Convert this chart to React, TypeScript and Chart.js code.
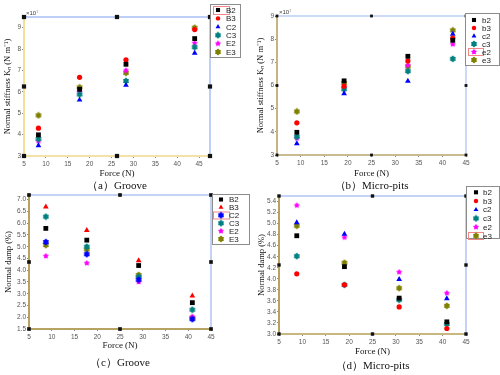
import React, { useEffect, useRef } from 'react';
import { Chart, registerables } from 'chart.js';
import { drawPoint } from 'chart.js/helpers';

Chart.register(...registerables);

// ---------------- data ----------------
// (a) Groove – normal stiffness (x10^7 N/m)
const grooveStiffForce = [8.3, 17.7, 28.3, 44.0];
const grooveStiffB2 = [3.99, 6.12, 7.29, 8.49];
const grooveStiffB3 = [4.3, 6.68, 7.5, 8.91];
const grooveStiffC2 = [3.49, 5.62, 6.31, 7.81];
const grooveStiffC3 = [3.8, 5.88, 6.51, 8.09];
const grooveStiffE2 = [3.69, 6.0, 7.0, 8.28];
const grooveStiffE3 = [4.9, 6.21, 6.89, 9.0];

// (b) Micro-pits – normal stiffness (x10^7 N/m)
const pitsStiffForce = [9.2, 19.2, 32.7, 42.2];
const pitsStiffb2 = [3.98, 6.2, 7.26, 7.95];
const pitsStiffb3 = [4.39, 5.97, 7.06, 8.05];
const pitsStiffc2 = [3.49, 5.65, 6.19, 8.22];
const pitsStiffc3 = [3.79, 5.84, 6.62, 7.15];
const pitsStiffe2 = [3.72, 5.91, 6.87, 7.78];
const pitsStiffe3 = [4.88, 6.11, 6.82, 8.38];

// (c) Groove – normal damp (%)
const grooveDampForce = [8.7, 17.7, 29.1, 40.9];
const grooveDampB2 = [5.78, 5.28, 4.2, 2.62];
const grooveDampB3 = [6.7, 5.7, 4.41, 2.91];
const grooveDampC2 = [5.2, 4.68, 3.6, 1.92];
const grooveDampC3 = [6.28, 5.0, 3.72, 2.32];
const grooveDampE2 = [4.6, 4.3, 3.5, 2.02];
const grooveDampE3 = [5.07, 4.88, 3.8, 1.98];

// (d) Micro-pits – normal damp (%)
const pitsDampForce = [8.8, 19.0, 30.7, 40.9];
const pitsDampb2 = [4.78, 4.22, 3.65, 3.22];
const pitsDampb3 = [4.09, 3.89, 3.49, 3.1];
const pitsDampc2 = [5.02, 4.81, 3.99, 3.64];
const pitsDampc3 = [4.41, 3.89, 3.62, 3.18];
const pitsDampe2 = [5.33, 4.75, 4.12, 3.74];
const pitsDampe3 = [4.96, 4.29, 3.83, 3.51];

// selection-handle squares on the frame of each plot
const handlesAx = [5, 26.25, 47.5, 47.5, 47.5, 26.25, 5, 5];
const handlesAy = [9.5, 9.5, 9.5, 6.25, 3, 3, 3, 6.25];
const handlesBx = [5, 25, 45, 45, 45, 25, 5, 5];
const handlesBy = [9, 9, 9, 6, 3, 3, 3, 6];
const handlesCx = [5, 25, 45, 45, 45, 25, 5, 5];
const handlesCy = [7.2, 7.2, 7.2, 4.35, 1.5, 1.5, 1.5, 4.35];
const handlesDx = [5, 25, 45, 45, 45, 25, 5, 5];
const handlesDy = [5.5, 5.5, 5.5, 4.25, 3.0, 3.0, 3.0, 4.25];

const upperLabels = ['B2', 'B3', 'C2', 'C3', 'E2', 'E3'];
const lowerLabels = ['b2', 'b3', 'c2', 'c3', 'e2', 'e3'];

// ---------------- styling ----------------
const SERIF = '"Liberation Serif", "Times New Roman", serif';
const SANS = '"Liberation Sans", Arial, sans-serif';
const COLORS = ['#000000', '#ff0000', '#0000ff', '#008080', '#ff00ff', '#808000'];

function starCanvas(color: string, n: number, outer: number, inner: number) {
  const s = 8;
  const c = document.createElement('canvas');
  c.width = s;
  c.height = s;
  const ctx = c.getContext('2d')!;
  ctx.fillStyle = color;
  ctx.beginPath();
  for (let i = 0; i < 2 * n; i++) {
    const r = i % 2 === 0 ? outer : inner;
    const a = -Math.PI / 2 + (i * Math.PI) / n;
    ctx.lineTo(s / 2 + r * Math.cos(a), s / 2 + r * Math.sin(a));
  }
  ctx.closePath();
  ctx.fill();
  return c;
}

function markerStyle(kind: string, color: string): { pointStyle: any; pointRadius: number } {
  if (kind === 'rect') return { pointStyle: 'rect', pointRadius: 3.4 };
  if (kind === 'circle') return { pointStyle: 'circle', pointRadius: 2.6 };
  if (kind === 'triangle') return { pointStyle: 'triangle', pointRadius: 3.3 };
  if (kind === 'star5') return { pointStyle: starCanvas(color, 5, 3.2, 1.8), pointRadius: 3 };
  return { pointStyle: starCanvas(color, 6, 3.4, 2.5), pointRadius: 3 };
}

const decorPlugin = {
  id: 'decor',
  beforeDatasetsDraw(chart: any, _a: any, opts: any) {
    const { ctx, chartArea: ca } = chart;
    ctx.save();
    ctx.strokeStyle = opts.frame;
    ctx.lineWidth = 1.5;
    ctx.beginPath();
    ctx.moveTo(ca.left, ca.top);
    ctx.lineTo(ca.right, ca.top);
    ctx.lineTo(ca.right, ca.bottom);
    ctx.stroke();
    ctx.restore();
  },
  afterDraw(chart: any, _a: any, opts: any) {
    const ctx = chart.ctx;
    const lg = opts.legend;
    ctx.save();
    const [bx, by, bw, bh] = lg.box;
    ctx.fillStyle = '#ffffff';
    ctx.fillRect(bx, by, bw, bh);
    ctx.strokeStyle = '#8c8c8c';
    ctx.lineWidth = 1;
    ctx.strokeRect(bx + 0.5, by + 0.5, bw - 1, bh - 1);
    if (lg.hl) {
      const [hx, hy, hw, hh] = lg.hl;
      ctx.strokeStyle = '#f08888';
      ctx.lineWidth = 1;
      ctx.strokeRect(hx + 0.5, hy + 0.5, hw, hh);
    }
    let i = 0;
    chart.data.datasets.forEach((ds: any) => {
      if (ds.isHandle) return;
      const y = lg.y0 + i * lg.dy;
      ctx.fillStyle = ds.backgroundColor;
      ctx.strokeStyle = ds.backgroundColor;
      drawPoint(ctx, { pointStyle: ds.pointStyle, radius: ds.pointRadius * 0.85, rotation: 0, borderWidth: 0 } as any, lg.mx, y);
      ctx.fillStyle = '#222';
      ctx.font = `8px ${SANS}`;
      ctx.textBaseline = 'middle';
      ctx.textAlign = 'left';
      ctx.fillText(ds.label, lg.tx, y + 0.5);
      i++;
    });
    if (opts.exp) {
      ctx.fillStyle = '#444';
      ctx.font = `6px ${SANS}`;
      ctx.textBaseline = 'middle';
      ctx.textAlign = 'left';
      ctx.fillText(opts.exp.text, opts.exp.x, opts.exp.y);
    }
    ctx.restore();
  },
};

interface Panel {
  xs: number[];
  series: number[][];
  labels: string[];
  markers: string[];
  hx: number[];
  hy: number[];
  handleR: number;
  xMax: number;
  yMin: number;
  yMax: number;
  yStep: number;
  yDec: number;
  yTitle: string;
  subtitle: string;
  area: { l: number; r: number; t: number; b: number };
  padLeft: number;
  xTitleY: number;
  subY: number;
  leftColor: string;
  bottomColor: string;
  frame: string;
  legend: any;
  exp?: any;
}

function buildChart(canvas: HTMLCanvasElement, p: Panel) {
  const datasets: any[] = p.series.map((ys, i) => {
    const m = markerStyle(p.markers[i], COLORS[i]);
    return {
      label: p.labels[i],
      data: ys.map((y, j) => ({ x: p.xs[j], y })),
      backgroundColor: COLORS[i],
      borderColor: COLORS[i],
      borderWidth: 0,
      pointStyle: m.pointStyle,
      pointRadius: m.pointRadius,
      pointHoverRadius: m.pointRadius,
      showLine: false,
    };
  });
  datasets.push({
    label: '',
    isHandle: true,
    data: p.hx.map((x, j) => ({ x, y: p.hy[j] })),
    backgroundColor: '#111',
    borderColor: '#111',
    borderWidth: 0,
    pointStyle: 'rect',
    pointRadius: p.handleR,
    showLine: false,
    clip: false,
  });

  const xTitleLH = 9 * 1.2;
  const subLH = 11 * 1.2;
  const xBoxBottom = p.xTitleY + xTitleLH / 2;
  const hxAxis = xBoxBottom - p.area.b;
  const subPadTop = Math.max(0, p.subY - xBoxBottom - subLH / 2);
  const padBottom = 375 - (xBoxBottom + subPadTop + subLH);

  return new Chart(canvas, {
    type: 'scatter',
    data: { datasets },
    plugins: [decorPlugin as any],
    options: {
      animation: false,
      responsive: false,
      devicePixelRatio: 1,
      events: [],
      layout: { padding: { left: p.padLeft, right: 500 - p.area.r, top: p.area.t, bottom: padBottom } },
      plugins: {
        legend: { display: false },
        tooltip: { enabled: false },
        title: {
          display: true,
          text: p.subtitle,
          position: 'bottom',
          fullSize: false,
          font: { family: SERIF, size: 11, weight: 'normal' },
          color: '#111',
          padding: { top: subPadTop, bottom: 0 },
        },
        decor: { frame: p.frame, legend: p.legend, exp: p.exp },
      } as any,
      scales: {
        x: {
          type: 'linear',
          min: 5,
          max: p.xMax,
          afterFit: (s: any) => {
            s.height = hxAxis;
          },
          ticks: {
            stepSize: 5,
            includeBounds: false,
            autoSkip: false,
            maxRotation: 0,
            padding: 2,
            color: '#555',
            font: { family: SANS, size: 6.5 },
            callback: (v: any) => String(v),
          },
          grid: { drawOnChartArea: false, tickLength: 2, color: '#888' },
          border: { color: p.bottomColor, width: 2 },
          title: { display: true, text: 'Force (N)', color: '#111', font: { family: SERIF, size: 9 }, padding: 0 },
        },
        y: {
          type: 'linear',
          min: p.yMin,
          max: p.yMax,
          afterFit: (s: any) => {
            s.width = p.area.l - p.padLeft;
          },
          ticks: {
            stepSize: p.yStep,
            includeBounds: false,
            autoSkip: false,
            padding: 1,
            color: '#555',
            font: { family: SANS, size: 6.5 },
            callback: (v: any) => Number(v).toFixed(p.yDec),
          },
          grid: { drawOnChartArea: false, tickLength: 2, color: '#888' },
          border: { color: p.leftColor, width: 2 },
          title: { display: true, text: p.yTitle, color: '#111', font: { family: SERIF, size: 8.5 }, padding: 0 },
        },
      },
    } as any,
  });
}

export default function App() {
  const refs = [useRef<HTMLCanvasElement>(null), useRef<HTMLCanvasElement>(null), useRef<HTMLCanvasElement>(null), useRef<HTMLCanvasElement>(null)];

  useEffect(() => {
    const stiffMarkers = ['rect', 'circle', 'triangle', 'star6', 'star5', 'star6'];
    const grooveDampMarkers = ['rect', 'triangle', 'star6', 'star6', 'star5', 'star6'];
    const panels: Panel[] = [
      {
        xs: grooveStiffForce,
        series: [grooveStiffB2, grooveStiffB3, grooveStiffC2, grooveStiffC3, grooveStiffE2, grooveStiffE3],
        labels: upperLabels,
        markers: stiffMarkers,
        hx: handlesAx,
        hy: handlesAy,
        handleR: 3,
        xMax: 47.5,
        yMin: 3,
        yMax: 9.5,
        yStep: 1,
        yDec: 0,
        yTitle: 'Normal stiffness Kₙ (N m⁻¹)',
        subtitle: '（a）Groove',
        area: { l: 24, r: 210, t: 17, b: 156 },
        padLeft: 3,
        xTitleY: 174,
        subY: 185,
        leftColor: '#f3df95',
        bottomColor: '#f3e3a8',
        frame: '#a8c0f3',
        legend: { box: [210, 4, 31, 54], mx: 218, tx: 226, y0: 10, dy: 8.4, hl: [213, 6, 16, 8] },
        exp: { text: '×10⁷', x: 26, y: 13 },
      },
      {
        xs: pitsStiffForce,
        series: [pitsStiffb2, pitsStiffb3, pitsStiffc2, pitsStiffc3, pitsStiffe2, pitsStiffe3],
        labels: lowerLabels,
        markers: stiffMarkers,
        hx: handlesBx,
        hy: handlesBy,
        handleR: 2,
        xMax: 45,
        yMin: 3,
        yMax: 9,
        yStep: 1,
        yDec: 0,
        yTitle: 'Normal stiffness Kₙ (N m⁻¹)',
        subtitle: '（b）Micro-pits',
        area: { l: 277, r: 466, t: 16, b: 155 },
        padLeft: 256,
        xTitleY: 174,
        subY: 185,
        leftColor: '#c8b482',
        bottomColor: '#c9bb90',
        frame: '#bccdf5',
        legend: { box: [465, 13, 35, 53], mx: 474, tx: 482, y0: 20, dy: 8, hl: [468, 48, 15, 7] },
        exp: { text: '×10⁷', x: 279, y: 12 },
      },
      {
        xs: grooveDampForce,
        series: [grooveDampB2, grooveDampB3, grooveDampC2, grooveDampC3, grooveDampE2, grooveDampE3],
        labels: upperLabels,
        markers: grooveDampMarkers,
        hx: handlesCx,
        hy: handlesCy,
        handleR: 2.6,
        xMax: 45,
        yMin: 1.5,
        yMax: 7.2,
        yStep: 0.5,
        yDec: 1,
        yTitle: 'Normal damp (%)',
        subtitle: '（c）Groove',
        area: { l: 29, r: 211, t: 195, b: 329 },
        padLeft: 4,
        xTitleY: 346,
        subY: 363,
        leftColor: '#b8a262',
        bottomColor: '#b8a262',
        frame: '#b0c4f2',
        legend: { box: [212, 194, 38, 51], mx: 221, tx: 229, y0: 199.5, dy: 7.9, hl: [213, 211.5, 16, 7] },
      },
      {
        xs: pitsDampForce,
        series: [pitsDampb2, pitsDampb3, pitsDampc2, pitsDampc3, pitsDampe2, pitsDampe3],
        labels: lowerLabels,
        markers: stiffMarkers,
        hx: handlesDx,
        hy: handlesDy,
        handleR: 2.4,
        xMax: 45,
        yMin: 3.0,
        yMax: 5.5,
        yStep: 0.2,
        yDec: 1,
        yTitle: 'Normal damp (%)',
        subtitle: '（d）Micro-pits',
        area: { l: 279, r: 466, t: 196, b: 334 },
        padLeft: 257,
        xTitleY: 352,
        subY: 366,
        leftColor: '#b8a262',
        bottomColor: '#c8b880',
        frame: '#b0c4f2',
        legend: { box: [466, 186, 34, 53], mx: 476, tx: 483, y0: 192.3, dy: 8.7, hl: [468, 232, 15, 7] },
      },
    ];
    const charts = panels.map((p, i) => buildChart(refs[i].current!, p));
    return () => charts.forEach((c) => c.destroy());
  }, []);

  return (
    <div style={{ position: 'absolute', left: 0, top: 0, width: 500, height: 375, background: '#ffffff' }}>
      {refs.map((r, i) => (
        <canvas key={i} ref={r} width={500} height={375} style={{ position: 'absolute', left: 0, top: 0 }} />
      ))}
    </div>
  );
}
